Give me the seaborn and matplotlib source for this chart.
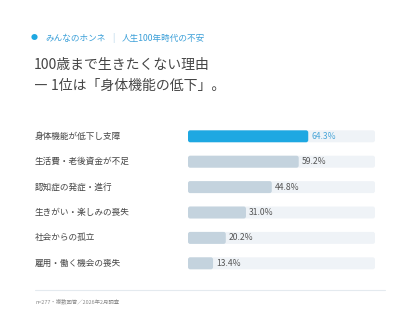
import numpy as np
import pandas as pd

import matplotlib
matplotlib.use('Agg')
import matplotlib.pyplot as plt
import matplotlib.transforms as mtrans
from matplotlib.patches import FancyBboxPatch
import seaborn as sns

reasons = ["身体機能が低下し支障", "生活費・老後資金が不足", "認知症の発症・進行",
           "生きがい・楽しみの喪失", "社会からの孤立", "雇用・働く機会の喪失"]
shares = [64.3, 59.2, 44.8, 31.0, 20.2, 13.4]
track = [100] * len(reasons)

sns.set_theme(style="white")
plt.rcParams['font.family'] = ['Noto Sans CJK JP', 'DejaVu Sans']

data = pd.DataFrame({'reason': reasons, 'share': shares, 'track': track})
colors = ['#1ea8e2'] + ['#c4d3de'] * (len(reasons) - 1)

W, H = 420, 325
fig = plt.figure(figsize=(4.2, 3.25), dpi=100)
fig.patch.set_facecolor('white')
ax = fig.add_axes([188 / W, 1 - 276 / H, 187 / W, 152.4 / H])

sns.barplot(data=data, x='track', y='reason', color='#eff3f7', width=0.47,
            ax=ax, saturation=1)
sns.barplot(data=data, x='share', y='reason', hue='reason', palette=colors,
            legend=False, width=0.47, ax=ax, saturation=1)
ax.set_xlim(0, 100)
ax.set_ylim(len(reasons) - 0.5, -0.5)
ax.axis('off')

# swap the square bars for slightly rounded ones
px_x = 187 / 100
px_y = 152.4 / len(reasons)
for p in list(ax.patches):
    x0, y0 = p.get_x(), p.get_y()
    w, h = p.get_width(), p.get_height()
    rb = FancyBboxPatch((x0, y0), w, h,
                        boxstyle=f"round,pad=0,rounding_size={2.2 / px_x}",
                        mutation_aspect=px_x / px_y,
                        facecolor=p.get_facecolor(), edgecolor='none',
                        zorder=p.get_zorder())
    p.remove()
    ax.add_patch(rb)

trans = mtrans.blended_transform_factory(fig.transFigure, ax.transData)
for i, (r, v) in enumerate(zip(reasons, shares)):
    fig.text(35 / W, i, r, transform=trans, ha='left', va='center',
             fontsize=6.2, color='#444444')
    ax.text(v + 1.6, i, f"{v:.1f}%", ha='left', va='center', fontsize=6.2,
            color='#4aa6d8' if i == 0 else '#555555')

# header
fig.text(34 / W, 1 - 38 / H, "●", ha='center', va='center', fontsize=5,
         color='#1ea8e2')
fig.text(45 / W, 1 - 38 / H, "みんなのホンネ", ha='left', va='center',
         fontsize=6.2, color='#3a9fd8')
fig.text(113 / W, 1 - 38 / H, "|", ha='center', va='center',
         fontsize=6.2, color='#a9cde6')
fig.text(122 / W, 1 - 38 / H, "人生100年時代の不安", ha='left', va='center',
         fontsize=6.2, color='#3a9fd8')

fig.text(34 / W, 1 - 65 / H, "100歳まで生きたくない理由", ha='left', va='center',
         fontsize=10, color='#454545')
fig.text(34 / W, 1 - 86 / H, "― 1位は「身体機能の低下」。", ha='left', va='center',
         fontsize=10, color='#454545')

fig.add_artist(plt.Line2D([35 / W, 385 / W], [1 - 290 / H, 1 - 290 / H],
                          color='#e4eaef', lw=0.8))
fig.text(35 / W, 1 - 302 / H, "n=277・複数回答／2026年2月調査", ha='left',
         va='center', fontsize=3.9, color='#8a8a8a')

fig.savefig("out.png", dpi=100, facecolor='white')
plt.close()
